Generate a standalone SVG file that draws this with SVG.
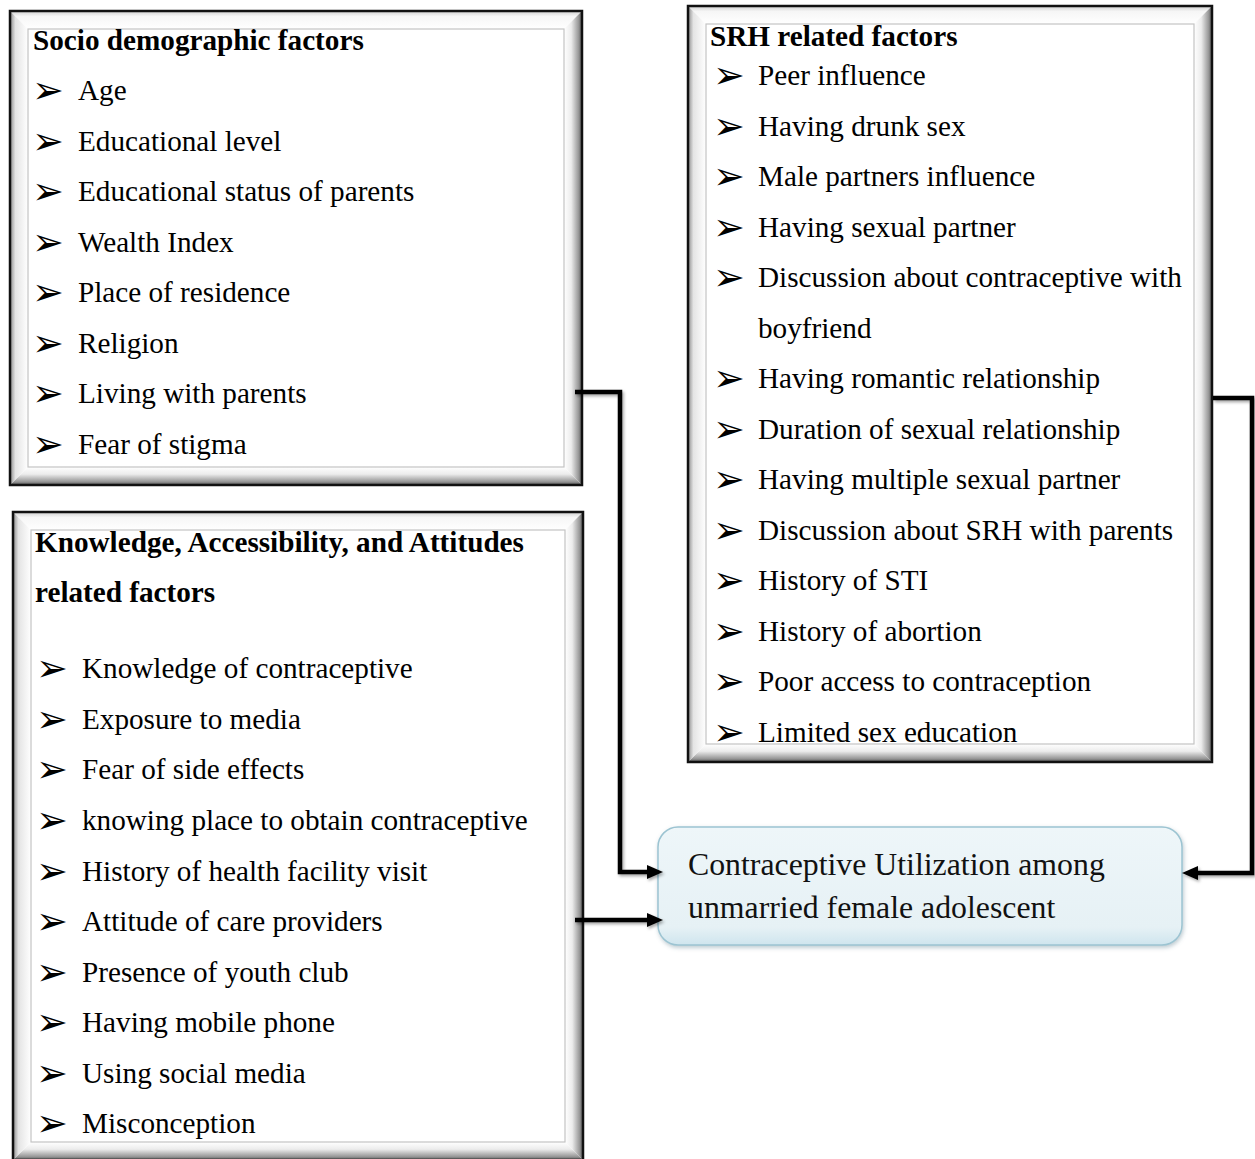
<svg xmlns="http://www.w3.org/2000/svg" width="1255" height="1159" viewBox="0 0 1255 1159">
<defs>
<style>
.t{font-family:"Liberation Serif","Times New Roman",serif;font-size:29.2px;fill:#000}
.h{font-family:"Liberation Serif","Times New Roman",serif;font-size:29.2px;font-weight:bold;fill:#000}
.b{font-family:"DejaVu Sans",sans-serif;font-size:38px;fill:#000}
.c{font-family:"Liberation Serif","Times New Roman",serif;font-size:31.8px;fill:#111}
.outer{fill:none;stroke:#111;stroke-width:2.5}
.inner{fill:none;stroke:#c4c4c4;stroke-width:1.2}
.conn{fill:none;stroke:#000;stroke-width:4.5}
</style>
<linearGradient id="gR" x1="0" y1="0" x2="1" y2="0"><stop offset="0" stop-color="#ffffff"/><stop offset="0.4" stop-color="#ececec"/><stop offset="0.8" stop-color="#9a9a9a"/><stop offset="1" stop-color="#5a5a5a"/></linearGradient>
<linearGradient id="gB" x1="0" y1="0" x2="0" y2="1"><stop offset="0" stop-color="#ffffff"/><stop offset="0.4" stop-color="#ececec"/><stop offset="0.8" stop-color="#9a9a9a"/><stop offset="1" stop-color="#5a5a5a"/></linearGradient>
<linearGradient id="gL" x1="0" y1="0" x2="1" y2="0"><stop offset="0" stop-color="#8a8a8a"/><stop offset="0.3" stop-color="#e4e4e4"/><stop offset="1" stop-color="#ffffff"/></linearGradient>
<linearGradient id="gT" x1="0" y1="0" x2="0" y2="1"><stop offset="0" stop-color="#d0d0d0"/><stop offset="0.3" stop-color="#f6f6f6"/><stop offset="1" stop-color="#ffffff"/></linearGradient>
<linearGradient id="gC" x1="0" y1="0" x2="0" y2="1"><stop offset="0" stop-color="#eef6f9"/><stop offset="0.85" stop-color="#e6f1f5"/><stop offset="1" stop-color="#cfe5ee"/></linearGradient>
<filter id="sh" x="-10%" y="-10%" width="130%" height="130%"><feDropShadow dx="1.5" dy="2" stdDeviation="1.5" flood-color="#000" flood-opacity="0.35"/></filter>
<filter id="shc" x="-10%" y="-10%" width="130%" height="130%"><feDropShadow dx="1" dy="2" stdDeviation="2" flood-color="#6a8a98" flood-opacity="0.45"/></filter>
<marker id="ah" markerUnits="userSpaceOnUse" markerWidth="16" markerHeight="14" refX="8" refY="7" orient="auto"><path d="M0,0 L16,7 L0,14 Z" fill="#000"/></marker>
<clipPath id="clipSRH"><rect x="688" y="6" width="524" height="737"/></clipPath>
</defs>
<rect width="1255" height="1159" fill="#fff"/>

<g id="socio">
<rect x="10" y="11" width="572" height="474" fill="#fff"/>
<polygon points="10,11 582,11 564,29 28,29" fill="url(#gT)"/>
<polygon points="582,11 582,485 564,467 564,29" fill="url(#gR)"/>
<polygon points="10,485 582,485 564,467 28,467" fill="url(#gB)"/>
<polygon points="10,11 28,29 28,467 10,485" fill="url(#gL)"/>
<rect class="inner" x="28" y="29" width="536" height="438"/>
<rect class="outer" x="10" y="11" width="572" height="474"/>
<text class="h" x="33" y="50">Socio demographic factors</text>
<text class="b" x="32" y="103">➢</text><text class="t" x="78" y="100">Age</text>
<text class="b" x="32" y="153.5">➢</text><text class="t" x="78" y="150.5">Educational level</text>
<text class="b" x="32" y="204">➢</text><text class="t" x="78" y="201">Educational status of parents</text>
<text class="b" x="32" y="254.5">➢</text><text class="t" x="78" y="251.5">Wealth Index</text>
<text class="b" x="32" y="305">➢</text><text class="t" x="78" y="302">Place of residence</text>
<text class="b" x="32" y="355.5">➢</text><text class="t" x="78" y="352.5">Religion</text>
<text class="b" x="32" y="406">➢</text><text class="t" x="78" y="403">Living with parents</text>
<text class="b" x="32" y="456.5">➢</text><text class="t" x="78" y="453.5">Fear of stigma</text>
</g>

<g id="knowledge">
<rect x="13" y="512" width="570" height="648" fill="#fff"/>
<polygon points="13,512 583,512 565,530 31,530" fill="url(#gT)"/>
<polygon points="583,512 583,1160 565,1142 565,530" fill="url(#gR)"/>
<polygon points="13,1160 583,1160 565,1142 31,1142" fill="url(#gB)"/>
<polygon points="13,512 31,530 31,1142 13,1160" fill="url(#gL)"/>
<rect class="inner" x="31" y="530" width="534" height="612"/>
<rect class="outer" x="13" y="512" width="570" height="648"/>
<text class="h" x="35" y="552">Knowledge, Accessibility, and Attitudes</text>
<text class="h" x="35" y="602">related factors</text>
<text class="b" x="36" y="681">➢</text><text class="t" x="82" y="678">Knowledge of contraceptive</text>
<text class="b" x="36" y="732">➢</text><text class="t" x="82" y="729">Exposure to media</text>
<text class="b" x="36" y="782">➢</text><text class="t" x="82" y="779">Fear of side effects</text>
<text class="b" x="36" y="833">➢</text><text class="t" x="82" y="830">knowing place to obtain contraceptive</text>
<text class="b" x="36" y="883.5">➢</text><text class="t" x="82" y="880.5">History of health facility visit</text>
<text class="b" x="36" y="934">➢</text><text class="t" x="82" y="931">Attitude of care providers</text>
<text class="b" x="36" y="984.5">➢</text><text class="t" x="82" y="981.5">Presence of youth club</text>
<text class="b" x="36" y="1035">➢</text><text class="t" x="82" y="1032">Having mobile phone</text>
<text class="b" x="36" y="1085.5">➢</text><text class="t" x="82" y="1082.5">Using social media</text>
<text class="b" x="36" y="1136">➢</text><text class="t" x="82" y="1133">Misconception</text>
</g>

<g id="srh">
<rect x="688" y="6" width="524" height="756" fill="#fff"/>
<polygon points="688,6 1212,6 1194,24 706,24" fill="url(#gT)"/>
<polygon points="1212,6 1212,762 1194,744 1194,24" fill="url(#gR)"/>
<polygon points="688,762 1212,762 1194,744 706,744" fill="url(#gB)"/>
<polygon points="688,6 706,24 706,744 688,762" fill="url(#gL)"/>
<rect class="inner" x="706" y="24" width="488" height="720"/>
<rect class="outer" x="688" y="6" width="524" height="756"/>
<g clip-path="url(#clipSRH)">
<text class="h" x="710" y="46">SRH related factors</text>
<text class="b" x="713" y="88">➢</text><text class="t" x="758" y="85">Peer influence</text>
<text class="b" x="713" y="138.5">➢</text><text class="t" x="758" y="135.5">Having drunk sex</text>
<text class="b" x="713" y="189">➢</text><text class="t" x="758" y="186">Male partners influence</text>
<text class="b" x="713" y="239.5">➢</text><text class="t" x="758" y="236.5">Having sexual partner</text>
<text class="b" x="713" y="290">➢</text><text class="t" x="758" y="287">Discussion about contraceptive with</text>
<text class="t" x="758" y="337.5">boyfriend</text>
<text class="b" x="713" y="391">➢</text><text class="t" x="758" y="388">Having romantic relationship</text>
<text class="b" x="713" y="441.5">➢</text><text class="t" x="758" y="438.5">Duration of sexual relationship</text>
<text class="b" x="713" y="492">➢</text><text class="t" x="758" y="489">Having multiple sexual partner</text>
<text class="b" x="713" y="542.5">➢</text><text class="t" x="758" y="539.5">Discussion about SRH with parents</text>
<text class="b" x="713" y="593">➢</text><text class="t" x="758" y="590">History of STI</text>
<text class="b" x="713" y="643.5">➢</text><text class="t" x="758" y="640.5">History of abortion</text>
<text class="b" x="713" y="694">➢</text><text class="t" x="758" y="691">Poor access to contraception</text>
<text class="b" x="713" y="745">➢</text><text class="t" x="758" y="742">Limited sex education</text>
</g>
</g>

<g id="outcome">
<rect x="658" y="827" width="524" height="118" rx="20" ry="20" fill="url(#gC)" stroke="#9cc4d2" stroke-width="1.5" filter="url(#shc)"/>
<text class="c" x="688" y="875">Contraceptive Utilization among</text>
<text class="c" x="688" y="918">unmarried female adolescent</text>
</g>

<g id="connectors" filter="url(#sh)">
<path class="conn" d="M575,392 H620 V872 H655" marker-end="url(#ah)"/>
<path class="conn" d="M575,920 H655" marker-end="url(#ah)"/>
<path class="conn" d="M1213,398 H1252 V873 H1190" marker-end="url(#ah)"/>
</g>
</svg>
